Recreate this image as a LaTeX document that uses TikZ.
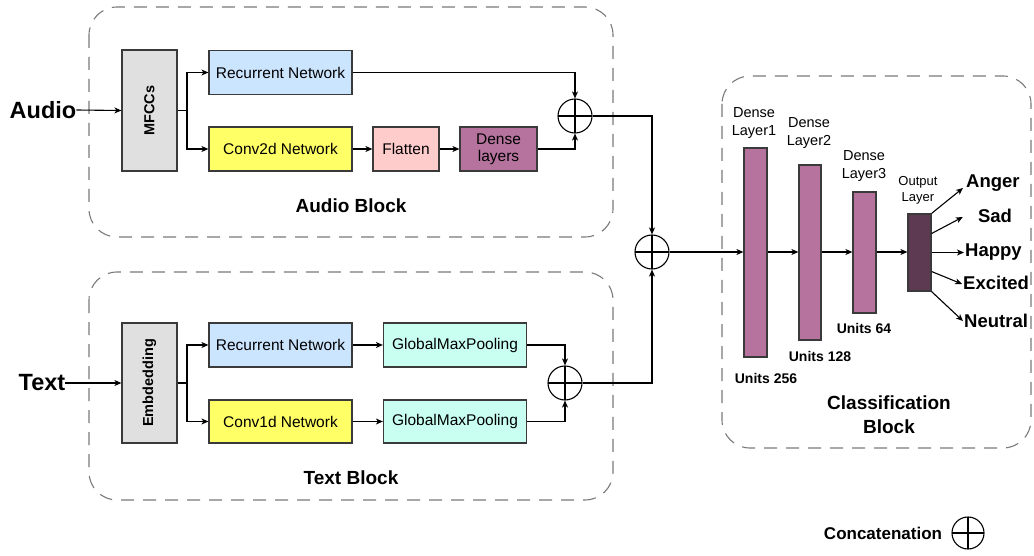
\documentclass[tikz,border=0pt]{standalone}
\usepackage{fontspec}
\setmainfont{Liberation Sans}
\usetikzlibrary{arrows.meta,calc}
\definecolor{bordc}{HTML}{3A3A3A}
\definecolor{dashc}{HTML}{7A7A7A}
\definecolor{cgray}{HTML}{E0E0E0}
\definecolor{cblue}{HTML}{CCE5FF}
\definecolor{cyel}{HTML}{FFFF66}
\definecolor{cpink}{HTML}{FFCCCC}
\definecolor{cpurp}{HTML}{B5739D}
\definecolor{cdark}{HTML}{5E3A52}
\definecolor{cmint}{HTML}{C8FFF0}
\newcommand{\fs}[2]{\fontsize{#1}{#2}\selectfont}
\tikzset{
  box/.style={draw=bordc, line width=1.2pt, inner sep=1pt, align=center, font=\fs{15.5}{17}},
  blockframe/.style={draw=dashc, line width=1.1pt, dash pattern=on 13pt off 9pt, rounded corners=28pt},
  arr/.style={draw=black, line width=1.1pt, -{Stealth[length=7pt,width=6pt,inset=2pt]}},
  ln/.style={draw=black, line width=1.1pt},
  concat/.style={circle, draw=black, line width=1.1pt, fill=white, minimum size=34pt, inner sep=0pt,
    path picture={\draw[line width=1.1pt] (path picture bounding box.north) -- (path picture bounding box.south)
      (path picture bounding box.west) -- (path picture bounding box.east);}},
  lbl/.style={inner sep=1pt, align=center},
}
\begin{document}
\begin{tikzpicture}[x=1pt,y=-1pt]
\useasboundingbox (0,0) rectangle (1034,556);
% block frames
\draw[blockframe] (89,7) rectangle (613,237);
\draw[blockframe] (89,272) rectangle (613,500);
\draw[blockframe] (722,76) rectangle (1031,448);
\node[lbl, font=\bfseries\fs{19}{23}] (ablock) at (351,206) {Audio Block};
\node[lbl, font=\bfseries\fs{19}{23}] (tblock) at (351,478) {Text Block};
\node[lbl, font=\bfseries\fs{19}{24}, align=center] (cblock) at (889,415) {Classification\\Block};

% audio block
\node[lbl, inner sep=0pt, font=\bfseries\fs{23.5}{28}] (audio) at (43,110) {Audio};
\node[box, fill=cgray, minimum width=55pt, minimum height=121pt] (mfcc) at (149.5,110.5) {};
\node[rotate=90, font=\bfseries\fs{14.5}{16}] (mfcct) at (mfcc.center) {MFCCs};
\node[box, fill=cblue, minimum width=143pt, minimum height=44pt] (aRec) at (280.5,72.5) {Recurrent Network};
\node[box, fill=cyel, minimum width=143pt, minimum height=44pt] (aConv) at (280.5,149) {Conv2d Network};
\node[box, fill=cpink, minimum width=66pt, minimum height=44pt] (flat) at (406,149) {Flatten};
\node[box, fill=cpurp, minimum width=77pt, minimum height=44pt, align=center] (dense) at (498.5,149) {Dense\\layers};
\node[concat] (acirc) at (575,116) {};

\coordinate (ab) at (187,110.5);
\draw[arr] (audio.east) -- (mfcc.west);
\draw[ln] (mfcc.east) -- (ab);
\draw[arr] (ab) |- (aRec.west);
\draw[arr] (ab) |- (aConv.west);
\draw[arr] (aConv.east) -- (flat.west);
\draw[arr] (flat.east) -- (dense.west);
\draw[arr] (aRec.east) -| (acirc.north);
\draw[arr] (dense.east) -| (acirc.south);

% text block
\node[lbl, inner sep=0pt, font=\bfseries\fs{23.5}{28}] (text) at (42,383) {Text};
\node[box, fill=cgray, minimum width=55pt, minimum height=120pt] (emb) at (149.5,383) {};
\node[rotate=90, font=\bfseries\fs{14.5}{16}] (embt) at (emb.center) {Embdedding};
\node[box, fill=cblue, minimum width=143pt, minimum height=44pt] (tRec) at (280.5,345) {Recurrent Network};
\node[box, fill=cyel, minimum width=143pt, minimum height=43pt] (tConv) at (280.5,421.5) {Conv1d Network};
\node[box, fill=cmint, minimum width=143pt, minimum height=44pt] (gmp1) at (455,345) {GlobalMaxPooling};
\node[box, fill=cmint, minimum width=143pt, minimum height=43pt] (gmp2) at (455,421.5) {GlobalMaxPooling};
\node[concat] (tcirc) at (565,383) {};

\coordinate (tb) at (187,383);
\draw[arr] (text.east) -- (emb.west);
\draw[ln] (emb.east) -- (tb);
\draw[arr] (tb) |- (tRec.west);
\draw[arr] (tb) |- (tConv.west);
\draw[arr] (tRec.east) -- (gmp1.west);
\draw[arr] (tConv.east) -- (gmp2.west);
\draw[arr] (gmp1.east) -| (tcirc.north);
\draw[arr] (gmp2.east) -| (tcirc.south);

% merge
\node[concat] (bcirc) at (652,252) {};
\draw[arr] (acirc.east) -| (bcirc.north);
\draw[arr] (tcirc.east) -| (bcirc.south);

% classification block
\node[box, fill=cpurp, minimum width=23pt, minimum height=209pt] (d1) at (755.5,252.5) {};
\node[box, fill=cpurp, minimum width=22pt, minimum height=175pt] (d2) at (810,252.5) {};
\node[box, fill=cpurp, minimum width=23pt, minimum height=121pt] (d3) at (864.5,252.5) {};
\node[box, fill=cdark, minimum width=23pt, minimum height=77pt] (out) at (919.5,252.5) {};
\draw[arr] (bcirc.east) -- (bcirc.east -| d1.west);
\draw[arr] (d1.east |- bcirc.east) -- (d2.west |- bcirc.east);
\draw[arr] (d2.east |- bcirc.east) -- (d3.west |- bcirc.east);
\draw[arr] (d3.east |- bcirc.east) -- (out.west |- bcirc.east);

\node[lbl, font=\fs{14.5}{18}] (d1l) at (754,123) {Dense\\Layer1};
\node[lbl, font=\fs{14.5}{18}] (d2l) at (809,133) {Dense\\Layer2};
\node[lbl, font=\fs{14.5}{18}] (d3l) at (864,166) {Dense\\Layer3};
\node[lbl, font=\fs{13}{16}] (outl) at (918,190) {Output\\Layer};
\node[lbl, font=\bfseries\fs{14}{17}] (u1) at (766,378) {Units 256};
\node[lbl, font=\bfseries\fs{14}{17}] (u2) at (820,356) {Units 128};
\node[lbl, font=\bfseries\fs{14}{17}] (u3) at (864,328) {Units 64};

\node[lbl, anchor=west, font=\bfseries\fs{18.5}{22}] (anger) at (965,183) {Anger};
\node[lbl, font=\bfseries\fs{18.5}{22}] (sad) at (995,216) {Sad};
\node[lbl, anchor=west, font=\bfseries\fs{18.5}{22}] (happy) at (964,252) {Happy};
\node[lbl, anchor=west, font=\bfseries\fs{18.5}{22}] (excited) at (962,283) {Excited};
\node[lbl, anchor=west, font=\bfseries\fs{18.5}{22}] (neutral) at (963,321) {Neutral};
\draw[arr] (out.north east) -- ([xshift=-2pt,yshift=-5pt]anger.west);
\draw[arr] ([yshift=19pt]out.east) -- ([xshift=-14pt,yshift=-1pt]sad.west);
\draw[arr] (out.east) -- (happy.west |- out.east);
\draw[arr] ([yshift=-19pt]out.east) -- ([yshift=-1pt]excited.west);
\draw[arr] (out.south east) -- ([yshift=0pt]neutral.west);

% legend
\node[lbl, font=\bfseries\fs{17}{20}] (conc) at (883,533) {Concatenation};
\node[concat, minimum size=32pt] (legc) at (968,533) {};
\end{tikzpicture}
\end{document}
